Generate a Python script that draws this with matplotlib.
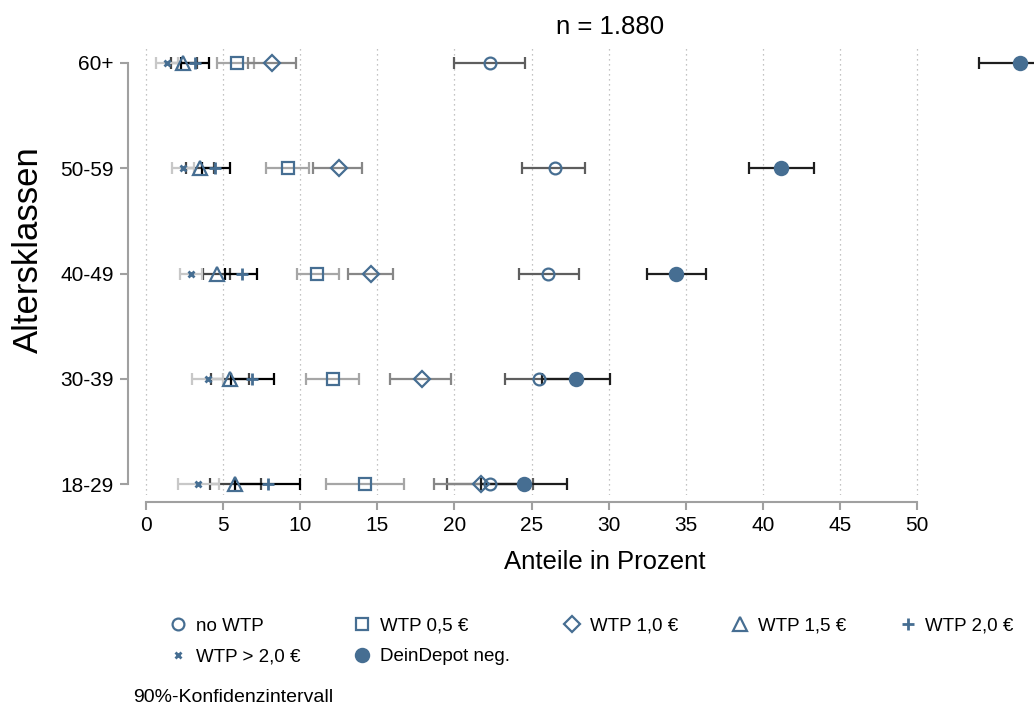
import matplotlib
matplotlib.use("Agg")
import matplotlib.pyplot as plt
import numpy as np

plt.rcParams['font.family'] = ['Liberation Sans', 'DejaVu Sans']

# age groups, bottom to top
age_groups = ["18-29", "30-39", "40-49", "50-59", "60+"]

# point estimates and 90% CI bounds (percent)
no_wtp = [22.3, 25.5, 26.1, 26.5, 22.3]
no_wtp_lo = [19.5, 23.3, 24.2, 24.4, 20.0]
no_wtp_hi = [25.1, 27.7, 28.1, 28.5, 24.6]

wtp_05 = [14.2, 12.1, 11.1, 9.2, 5.9]
wtp_05_lo = [11.7, 10.4, 9.8, 7.8, 4.6]
wtp_05_hi = [16.7, 13.8, 12.5, 10.6, 7.0]

wtp_10 = [21.7, 17.9, 14.6, 12.5, 8.2]
wtp_10_lo = [18.7, 15.8, 13.1, 10.8, 6.6]
wtp_10_hi = [24.7, 19.8, 16.0, 14.0, 9.7]

wtp_15 = [5.8, 5.45, 4.6, 3.5, 2.4]
wtp_15_lo = [4.15, 4.2, 3.7, 2.6, 1.6]
wtp_15_hi = [7.45, 6.7, 5.45, 4.4, 3.3]

wtp_20 = [7.9, 6.9, 6.2, 4.5, 3.2]
wtp_20_lo = [5.8, 5.5, 5.1, 3.6, 2.3]
wtp_20_hi = [10.0, 8.3, 7.2, 5.45, 4.1]

wtp_gt20 = [3.4, 4.0, 2.9, 2.4, 1.35]
wtp_gt20_lo = [2.05, 3.0, 2.2, 1.7, 0.65]
wtp_gt20_hi = [4.75, 5.0, 3.6, 3.1, 2.05]

deindepot = [24.5, 27.9, 34.4, 41.2, 56.7]
deindepot_lo = [21.7, 25.7, 32.5, 39.1, 54.0]
deindepot_hi = [27.3, 30.1, 36.3, 43.3, 59.4]

blue = '#466e92'

# (label, est, lo, hi, marker, markersize, filled, ci colour)
series = [
    ("no WTP", no_wtp, no_wtp_lo, no_wtp_hi, 'o', 8.5, False, '#5e5e5e'),
    ("WTP 0,5 €", wtp_05, wtp_05_lo, wtp_05_hi, 's', 8.5, False, '#a6a6a6'),
    ("WTP 1,0 €", wtp_10, wtp_10_lo, wtp_10_hi, 'D', 8.5, False, '#878787'),
    ("WTP 1,5 €", wtp_15, wtp_15_lo, wtp_15_hi, '^', 9.5, False, '#444444'),
    ("WTP 2,0 €", wtp_20, wtp_20_lo, wtp_20_hi, '+', 8, True, '#000000'),
    ("WTP > 2,0 €", wtp_gt20, wtp_gt20_lo, wtp_gt20_hi, 'x', 4.5, True, '#c8c8c8'),
    ("DeinDepot neg.", deindepot, deindepot_lo, deindepot_hi, 'o', 9.5, True, '#1e1e1e'),
]

fig = plt.figure(figsize=(10.34, 7.06), dpi=100)
W, H = 1034, 706
ax = fig.add_axes([134 / W, 1 - 495 / H, (W - 134) / W, (495 - 47) / H])

y = np.arange(len(age_groups))
handles = {}
for i, (label, est, lo, hi, mk, ms, filled, cicol) in enumerate(series):
    est = np.array(est)
    err = np.vstack([est - np.array(lo), np.array(hi) - est])
    ax.errorbar(est, y, xerr=err, fmt='none', ecolor=cicol, elinewidth=1.6,
                capsize=4.3, capthick=1.6, zorder=2 + i)
    h, = ax.plot(est, y, linestyle='none', marker=mk, markersize=ms,
                 markeredgecolor=blue, markerfacecolor=blue if filled else 'none',
                 markeredgewidth=1.6 if mk not in ('+', 'x') else 2.0,
                 zorder=10 + i, label=label)
    handles[label] = h

ax.set_xlim((134 - 146) / 15.42, (W - 146) / 15.42)
ax.set_ylim((484 - 495) / 105.25, (484 - 47) / 105.25)

ax.set_xticks(np.arange(0, 51, 5))
ax.set_yticks(y)
ax.set_yticklabels(age_groups)
ax.grid(axis='x', linestyle=(0, (1, 3)), color='#b0b0b0', linewidth=0.9)
ax.set_axisbelow(True)

for s in ['top', 'right']:
    ax.spines[s].set_visible(False)
ax.spines['left'].set_position(('outward', 4.5))
ax.spines['bottom'].set_position(('outward', 5))
ax.spines['left'].set_bounds(0, 4)
ax.spines['bottom'].set_bounds(0, 50)
for s in ['left', 'bottom']:
    ax.spines[s].set_color('#a0a0a0')
    ax.spines[s].set_linewidth(1.5)
ax.tick_params(axis='both', colors='#a0a0a0', length=6, width=1.5,
               labelsize=15, labelcolor='black')
ax.tick_params(axis='y', pad=4)
ax.tick_params(axis='x', pad=4)

ax.set_xlabel("Anteile in Prozent", fontsize=18.5)
ax.xaxis.set_label_coords((605 - 134) / (W - 134), -(562 - 495) / 448)
ax.xaxis.label.set_va('center')
ax.set_ylabel("Altersklassen", fontsize=25)
ax.yaxis.set_label_coords((28 - 134) / (W - 134), (495 - 250) / 448)
ax.yaxis.label.set_va('center')
fig.text(610 / W, 1 - 27 / H, "n = 1.880", fontsize=18.5, ha='center', va='center')

order = ["no WTP", "WTP > 2,0 €", "WTP 0,5 €", "DeinDepot neg.",
         "WTP 1,0 €", "WTP 1,5 €", "WTP 2,0 €"]
leg = fig.legend([handles[k] for k in order], order, loc='upper left',
                 bbox_to_anchor=(161 / W, 1 - 610 / H), ncol=5, frameon=False,
                 fontsize=13.5, handlelength=1.0, handletextpad=0.45,
                 columnspacing=2.8, labelspacing=0.72, borderaxespad=0)

fig.text(133 / W, 1 - 702 / H, "90%-Konfidenzintervall", fontsize=14,
         va='baseline', ha='left')

fig.savefig("out.png", dpi=100)
